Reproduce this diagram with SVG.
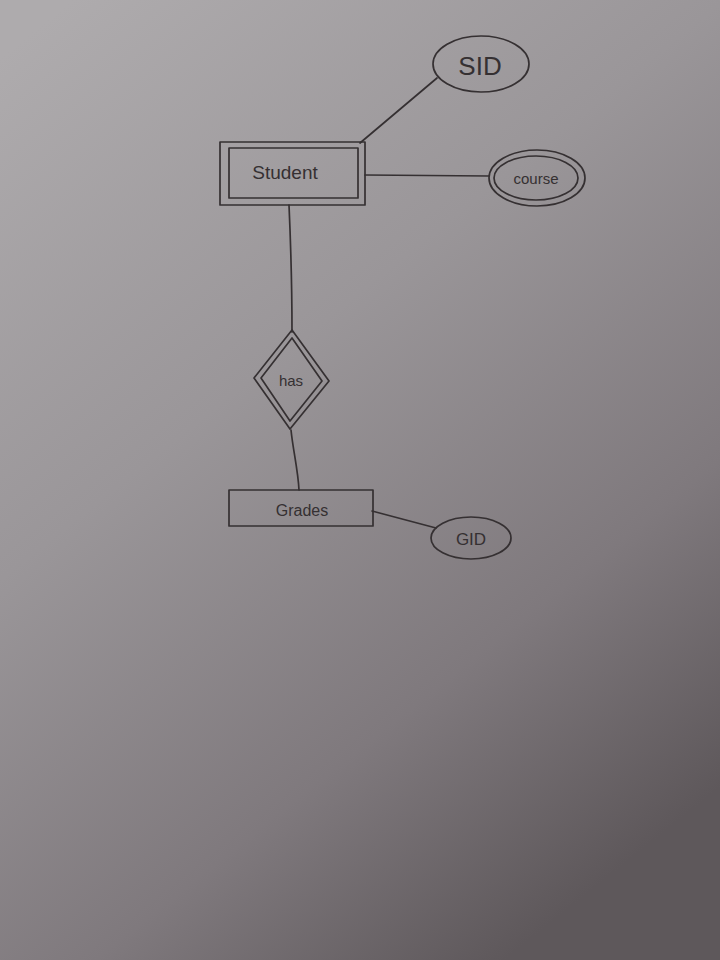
<svg xmlns="http://www.w3.org/2000/svg" width="720" height="960" viewBox="0 0 720 960">
<defs>
<linearGradient id="paper" x1="0.1" y1="0" x2="0.7" y2="1">
<stop offset="0" stop-color="#aeabad"/>
<stop offset="0.4" stop-color="#9a9699"/>
<stop offset="0.75" stop-color="#7f797d"/>
<stop offset="1" stop-color="#5e585b"/>
</linearGradient>
<style>
.s{fill:none;stroke:#353032;stroke-width:1.7;stroke-linejoin:round;stroke-linecap:round}
.t{font-family:"Liberation Sans","DejaVu Sans",sans-serif;fill:#353032;text-anchor:middle;dominant-baseline:central}
</style>
</defs>
<rect width="720" height="960" fill="url(#paper)"/>
<g id="connectors">
<path class="s" d="M360,143 L437,78"/>
<path class="s" d="M365,175 L489,176"/>
<path class="s" d="M289,205 C291,250 292,300 292,332"/>
<path class="s" d="M291,430 C293,450 298,470 299,490"/>
<path class="s" d="M372,511 L436,528"/>
</g>
<g id="sid">
<ellipse class="s" cx="481" cy="64" rx="48" ry="28"/>
<text class="t" x="480" y="66" font-size="26">SID</text>
</g>
<g id="student">
<rect class="s" x="220" y="142" width="145" height="63"/>
<rect class="s" x="229" y="148" width="129" height="50"/>
<text class="t" x="285" y="172" font-size="19">Student</text>
</g>
<g id="course">
<ellipse class="s" cx="537" cy="178" rx="48" ry="28"/>
<ellipse class="s" cx="536" cy="178" rx="42" ry="22"/>
<text class="t" x="536" y="178" font-size="15">course</text>
</g>
<g id="has">
<polygon class="s" points="292,330 329,381 290,429 254,378"/>
<polygon class="s" points="292,338 322,381 290,421 261,378"/>
<text class="t" x="291" y="380" font-size="15">has</text>
</g>
<g id="grades">
<rect class="s" x="229" y="490" width="144" height="36"/>
<text class="t" x="302" y="510" font-size="16">Grades</text>
</g>
<g id="gid">
<ellipse class="s" cx="471" cy="538" rx="40" ry="21"/>
<text class="t" x="471" y="539" font-size="17">GID</text>
</g>
</svg>
